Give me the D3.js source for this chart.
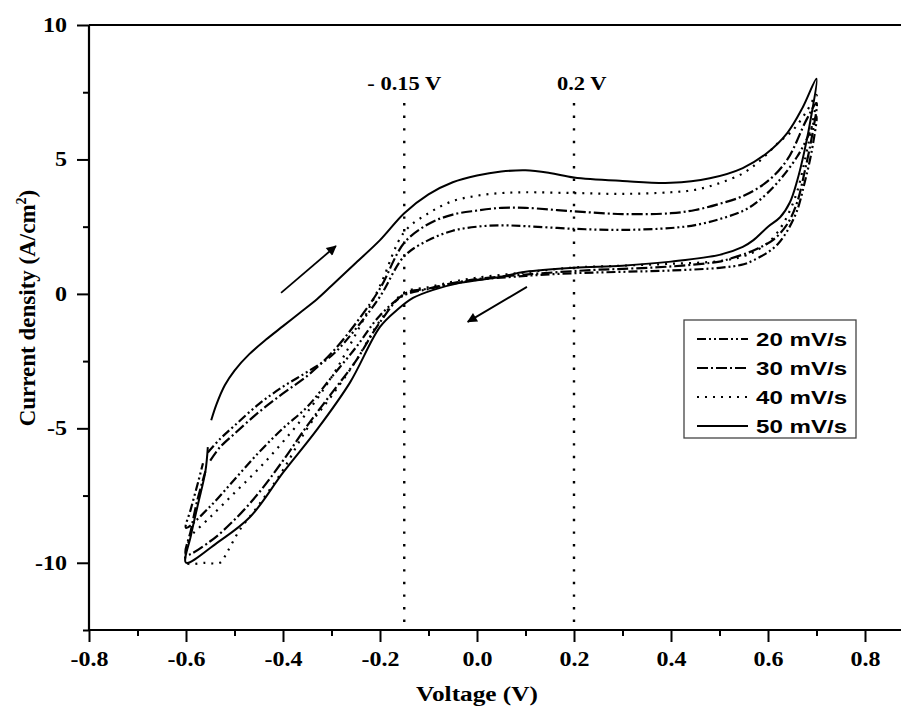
<!DOCTYPE html>
<html><head><meta charset="utf-8">
<script src="https://cdn.jsdelivr.net/npm/d3@7"></script>
<style>body{margin:0;background:#fff}svg{display:block}</style>
</head><body>
<svg id="c" width="901" height="707"></svg>
<script>
// ---- data ----
const seriesNames = ["20 mV/s", "30 mV/s", "40 mV/s", "50 mV/s"];
const s20 = [[-0.555,-5.9],[-0.53,-5.4],[-0.5,-4.9],[-0.45,-4.1],[-0.4,-3.45],[-0.35,-2.9],[-0.3,-2.3],[-0.25,-1.3],[-0.2,-0.1],[-0.15,1.4],[-0.1,2.0],[-0.05,2.35],[0.0,2.5],[0.05,2.55],[0.1,2.52],[0.2,2.42],[0.3,2.38],[0.4,2.45],[0.45,2.56],[0.5,2.78],[0.55,3.1],[0.58,3.45],[0.62,4.15],[0.66,5.1],[0.685,5.95],[0.7,6.6],
  [0.69,5.3],[0.675,4.1],[0.66,3.1],[0.64,2.35],[0.62,1.85],[0.6,1.55],[0.57,1.25],[0.55,1.1],[0.5,0.97],[0.4,0.87],[0.3,0.82],[0.2,0.77],[0.1,0.67],[0.0,0.52],[-0.05,0.38],[-0.1,0.18],[-0.15,-0.05],[-0.2,-0.8],[-0.25,-2.0],[-0.3,-3.1],[-0.35,-4.2],[-0.4,-5.0],[-0.45,-5.9],[-0.5,-6.9],[-0.55,-7.9],[-0.6,-8.7],
  [-0.59,-8.0],[-0.575,-7.0],[-0.565,-6.3]];
const s30 = [[-0.55,-6.2],[-0.53,-5.7],[-0.5,-5.2],[-0.45,-4.4],[-0.4,-3.7],[-0.35,-3.05],[-0.3,-2.2],[-0.25,-1.1],[-0.2,0.2],[-0.15,1.9],[-0.1,2.6],[-0.05,2.95],[0.0,3.1],[0.05,3.2],[0.1,3.2],[0.2,3.07],[0.3,2.97],[0.4,3.0],[0.45,3.12],[0.5,3.35],[0.55,3.65],[0.6,4.2],[0.64,5.0],[0.68,6.5],[0.7,7.1],
  [0.69,5.8],[0.675,4.5],[0.66,3.4],[0.64,2.6],[0.61,2.0],[0.58,1.7],[0.557,1.52],[0.5,1.2],[0.48,1.15],[0.4,1.02],[0.3,0.93],[0.24,0.89],[0.1,0.72],[0.0,0.55],[-0.05,0.4],[-0.1,0.2],[-0.15,0.0],[-0.2,-1.05],[-0.25,-2.5],[-0.3,-3.7],[-0.35,-4.9],[-0.4,-6.2],[-0.45,-7.4],[-0.5,-8.4],[-0.55,-9.2],[-0.6,-9.7],
  [-0.59,-8.8],[-0.577,-7.7],[-0.56,-6.6]];
const s40 = [[-0.585,-8.9],[-0.55,-8.3],[-0.5,-7.4],[-0.45,-6.5],[-0.4,-5.5],[-0.35,-4.4],[-0.3,-3.1],[-0.25,-1.5],[-0.2,0.3],[-0.15,2.3],[-0.1,3.0],[-0.05,3.45],[0.0,3.65],[0.05,3.75],[0.1,3.78],[0.2,3.75],[0.3,3.72],[0.4,3.78],[0.45,3.87],[0.5,4.12],[0.55,4.5],[0.585,4.98],[0.62,5.6],[0.652,6.1],[0.68,6.8],[0.7,7.4],
  [0.69,6.2],[0.675,4.9],[0.66,3.8],[0.64,2.9],[0.62,2.3],[0.6,1.9],[0.57,1.55],[0.55,1.4],[0.5,1.22],[0.4,1.12],[0.3,1.05],[0.2,0.98],[0.1,0.8],[0.0,0.6],[-0.05,0.45],[-0.1,0.25],[-0.15,0.05],[-0.2,-1.0],[-0.25,-2.5],[-0.3,-3.8],[-0.35,-5.0],[-0.4,-6.55],[-0.45,-7.85],[-0.49,-8.8],[-0.515,-9.6],[-0.53,-10.0],[-0.56,-10.0],[-0.6,-10.0],
  [-0.597,-9.4],[-0.59,-8.9]];
const s50 = [[-0.548,-4.7],[-0.537,-4.1],[-0.52,-3.4],[-0.5,-2.85],[-0.47,-2.25],[-0.435,-1.7],[-0.4,-1.2],[-0.365,-0.7],[-0.33,-0.2],[-0.3,0.3],[-0.25,1.15],[-0.2,2.0],[-0.15,3.0],[-0.1,3.7],[-0.05,4.15],[0.0,4.4],[0.05,4.55],[0.1,4.6],[0.15,4.5],[0.2,4.33],[0.3,4.2],[0.4,4.13],[0.48,4.3],[0.548,4.68],[0.598,5.24],[0.64,5.99],[0.672,6.95],[0.7,8.0],
  [0.69,6.7],[0.675,5.3],[0.66,4.2],[0.645,3.4],[0.625,2.85],[0.6,2.5],[0.57,2.0],[0.548,1.75],[0.5,1.45],[0.4,1.2],[0.3,1.05],[0.2,0.97],[0.1,0.82],[0.047,0.63],[-0.035,0.41],[-0.09,0.15],[-0.132,-0.15],[-0.165,-0.6],[-0.2,-1.23],[-0.262,-3.3],[-0.33,-5.05],[-0.4,-6.65],[-0.468,-8.3],[-0.536,-9.26],[-0.6,-10.0],
  [-0.59,-9.0],[-0.575,-7.8],[-0.56,-6.6],[-0.555,-5.7]];
const seriesData = [s20, s30, s40, s50];
const xTicks = [-0.8,-0.6,-0.4,-0.2,0.0,0.2,0.4,0.6,0.8];
const xMinor = [-0.7,-0.5,-0.3,-0.1,0.1,0.3,0.5,0.7,0.9];
const yTicks = [-10,-5,0,5,10];
const yMinor = [-12.5,-7.5,-2.5,2.5,7.5];
const markerV = [-0.15, 0.2];
const markerLabels = ["- 0.15 V", "0.2 V"];
const arrows = [[[-0.404,0.04],[-0.291,1.78]], [[0.103,0.26],[-0.019,-1.04]]];

// ---- styles ----
const dashes = ["9,3,2,3,2,3", "11,3,2,3", "2,6", null];
const serif = "'Liberation Serif','Times New Roman',serif";
const sans = "'Liberation Sans',Arial,sans-serif";

const svg = d3.select("#c");
const x = d3.scaleLinear().domain([-0.8, 0.9]).range([89, 913.5]);
const y = d3.scaleLinear().domain([-12.5, 10]).range([630, 25]);

function stretch(sel, sx) {
  sel.each(function(){
    const t = d3.select(this);
    const tx = +t.attr("x") || 0, ty = +t.attr("y") || 0;
    t.attr("x",0).attr("y",0).attr("transform",`translate(${tx},${ty}) scale(${sx},1)`);
  });
}

svg.append("defs").append("marker").attr("id","ah").attr("viewBox","0 0 10 10")
  .attr("refX",9).attr("refY",5).attr("markerWidth",15).attr("markerHeight",10)
  .attr("markerUnits","userSpaceOnUse").attr("orient","auto")
  .append("path").attr("d","M0,0 L10,5 L0,10 Z").attr("fill","#000");

// frame lines
svg.append("line").attr("x1",x(-0.8)).attr("x2",901).attr("y1",y(10)).attr("y2",y(10))
  .attr("stroke","#000").attr("stroke-width",2);

const fmtX = d => d3.format(".1f")(d).replace("\u2212","-");
const fmtY = d => String(d);
const gx = svg.append("g").attr("transform",`translate(0,${y(-12.5)})`)
  .call(d3.axisBottom(x).tickValues(xTicks).tickSize(12).tickPadding(10).tickFormat(fmtX));
const gxm = svg.append("g").attr("transform",`translate(0,${y(-12.5)})`)
  .call(d3.axisBottom(x).tickValues(xMinor).tickSize(6).tickFormat(""));
const gy = svg.append("g").attr("transform",`translate(${x(-0.8)},0)`)
  .call(d3.axisLeft(y).tickValues(yTicks).tickSize(12).tickPadding(10).tickFormat(fmtY));
const gym = svg.append("g").attr("transform",`translate(${x(-0.8)},0)`)
  .call(d3.axisLeft(y).tickValues(yMinor).tickSize(6).tickFormat(""));
[gx,gxm,gy,gym].forEach(g=>{
  g.select("path.domain").remove();
  g.selectAll(".tick line").attr("stroke-width",2);
  g.selectAll(".tick text").style("font-family",serif).style("font-weight","bold").style("font-size","20px").attr("fill","#000");
});
stretch(gx.selectAll(".tick text"), 1.2);
stretch(gy.selectAll(".tick text"), 1.2);
svg.append("line").attr("x1",x(-0.8)).attr("x2",901).attr("y1",y(-12.5)).attr("y2",y(-12.5)).attr("stroke","#000").attr("stroke-width",2.2);
svg.append("line").attr("x1",x(-0.8)).attr("x2",x(-0.8)).attr("y1",y(10)).attr("y2",y(-12.5)).attr("stroke","#000").attr("stroke-width",2.2);

// axis titles
svg.append("text").attr("transform",`translate(${x(0)},701) scale(1.15,1)`).attr("text-anchor","middle")
  .style("font-family",serif).style("font-weight","bold").style("font-size","22px").text("Voltage (V)");
const yt = svg.append("text").attr("transform","translate(35,308) rotate(-90)").attr("text-anchor","middle")
  .style("font-family",serif).style("font-weight","bold").style("font-size","23px");
yt.append("tspan").text("Current density (A/cm");
yt.append("tspan").style("font-size","14px").attr("dy",-9).text("2");
yt.append("tspan").attr("dy",9).text(")");

// marker lines
markerV.forEach((v,i)=>{
  svg.append("line").attr("x1",x(v)).attr("x2",x(v)).attr("y1",103).attr("y2",626)
    .attr("stroke","#000").attr("stroke-width",2.4).attr("stroke-dasharray","2.4,10.2");
  svg.append("text").attr("transform",`translate(${i===0 ? x(v) : x(v)-17},90) scale(1.25,1)`)
    .attr("text-anchor", i===0 ? "middle" : "start")
    .style("font-family",serif).style("font-weight","bold").style("font-size","18px").text(markerLabels[i]);
});

// curves
const line = d3.line().x(d=>x(d[0])).y(d=>y(d[1])).curve(d3.curveCatmullRom.alpha(0.5));
seriesData.forEach((s,i)=>{
  svg.append("path").attr("d",line(s)).attr("fill","none").attr("stroke","#000")
    .attr("stroke-width", i===3 ? 2 : 2.2)
    .attr("stroke-dasharray", dashes[i]);
});

// arrows
arrows.forEach(a=>{
  svg.append("line").attr("x1",x(a[0][0])).attr("y1",y(a[0][1])).attr("x2",x(a[1][0])).attr("y2",y(a[1][1]))
    .attr("stroke","#000").attr("stroke-width",1.8).attr("marker-end","url(#ah)");
});

// legend
const lg = svg.append("g");
lg.append("rect").attr("x",684).attr("y",320).attr("width",172).attr("height",118)
  .attr("fill","#fff").attr("stroke","#444").attr("stroke-width",1.3);
seriesNames.forEach((n,i)=>{
  const cy = 339 + i*29;
  lg.append("line").attr("x1",697).attr("x2",748).attr("y1",cy).attr("y2",cy)
    .attr("stroke","#000").attr("stroke-width",2.2).attr("stroke-dasharray",dashes[i]);
  lg.append("text").attr("transform",`translate(756,${cy+7}) scale(1.27,1)`).style("font-family",sans).style("font-weight","bold")
    .style("font-size","19px").text(n);
});
</script>
</body></html>
